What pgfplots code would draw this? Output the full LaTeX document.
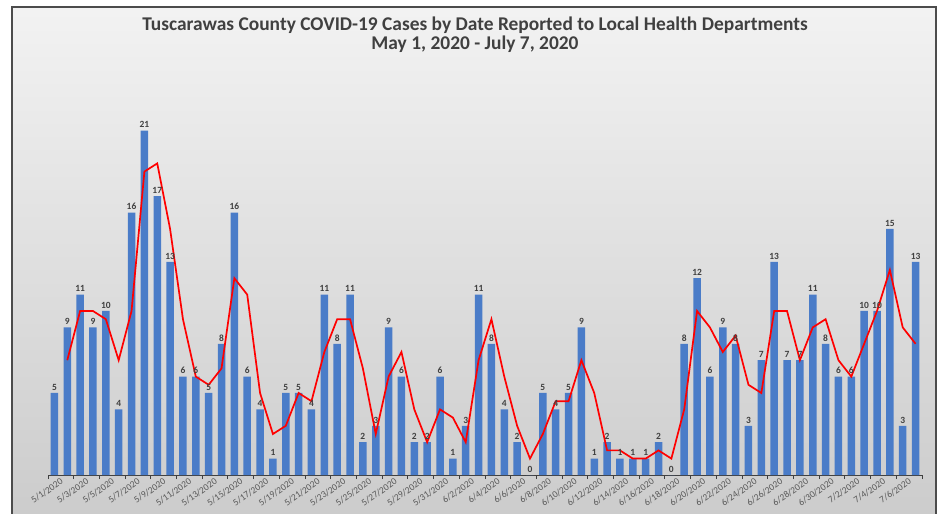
\documentclass[border=0pt]{standalone}
\usepackage{pgfplots}
\usepackage{pgfplotstable}
\pgfplotsset{compat=1.18}
\usepackage{fontspec}
\setmainfont{Carlito}
\definecolor{barblue}{RGB}{74,124,200}
\definecolor{txtgray}{RGB}{64,64,64}
\definecolor{ticklab}{RGB}{89,89,89}
\pgfplotstableread{
x y
0 5
1 9
2 11
3 9
4 10
5 4
6 16
7 21
8 17
9 13
10 6
11 6
12 5
13 8
14 16
15 6
16 4
17 1
18 5
19 5
20 4
21 11
22 8
23 11
24 2
25 3
26 9
27 6
28 2
29 2
30 6
31 1
32 3
33 11
34 8
35 4
36 2
37 0
38 5
39 4
40 5
41 9
42 1
43 2
44 1
45 1
46 1
47 2
48 0
49 8
50 12
51 6
52 9
53 8
54 3
55 7
56 13
57 7
58 7
59 11
60 8
61 6
62 6
63 10
64 10
65 15
66 3
67 13
}\cases
\pgfplotstableread{
x m
1 7
2 10
3 10
4 9.5
5 7
6 10
7 18.5
8 19
9 15
10 9.5
11 6
12 5.5
13 6.5
14 12
15 11
16 5
17 2.5
18 3
19 5
20 4.5
21 7.5
22 9.5
23 9.5
24 6.5
25 2.5
26 6
27 7.5
28 4
29 2
30 4
31 3.5
32 2
33 7
34 9.5
35 6
36 3
37 1
38 2.5
39 4.5
40 4.5
41 7
42 5
43 1.5
44 1.5
45 1
46 1
47 1.5
48 1
49 4
50 10
51 9
52 7.5
53 8.5
54 5.5
55 5
56 10
57 10
58 7
59 9
60 9.5
61 7
62 6
63 8
64 10
65 12.5
66 9
67 8
}\avg
\begin{document}
\begin{tikzpicture}
\useasboundingbox (0,0) rectangle (940bp,514bp);
\fill[white] (0,0) rectangle (940bp,514bp);
\shade[top color=white!95!black, bottom color=white!80!black] (12bp,-2bp) rectangle (936bp,507bp);
\draw[gray!60!black, line width=1.5bp] (12bp,-2bp) rectangle (936bp,507bp);
\node[font=\fontsize{19.5}{19.5}\selectfont\bfseries, text=txtgray, align=center] at (475bp,479bp) {Tuscarawas County COVID-19 Cases by Date Reported to Local Health Departments\\May 1, 2020 - July 7, 2020};
\begin{axis}[
  at={(48bp,39bp)}, anchor=south west,
  scale only axis, width=874bp, height=410bp,
  xmin=-0.5, xmax=67.5, ymin=0, ymax=25,
  /pgf/number format/assume math mode=true,
  axis line style={draw=none},
  axis x line*=bottom,
  x axis line style={draw=txtgray, line width=0.9bp},
  axis y line=none,
  ytick={5,10,15,20},
  ymajorgrids,
  grid style={gray!55, line width=0.5bp},
  xtick={0,2,...,66},
  xticklabels={5/1/2020,5/3/2020,5/5/2020,5/7/2020,5/9/2020,5/11/2020,5/13/2020,5/15/2020,5/17/2020,5/19/2020,5/21/2020,5/23/2020,5/25/2020,5/27/2020,5/29/2020,5/31/2020,6/2/2020,6/4/2020,6/6/2020,6/8/2020,6/10/2020,6/12/2020,6/14/2020,6/16/2020,6/18/2020,6/20/2020,6/22/2020,6/24/2020,6/26/2020,6/28/2020,6/30/2020,7/2/2020,7/4/2020,7/6/2020},
  xticklabel style={rotate=35, anchor=north east, font=\fontsize{9.5}{10}\selectfont, text=ticklab, inner sep=1bp, xshift=4bp, yshift=-4bp},
  major tick length=0pt,
  extra x ticks={-0.5,1.5,...,67.5},
  extra x tick labels={},
  extra x tick style={major tick length=4bp, tick style={draw=txtgray, line width=0.9bp}, tick align=outside, xmajorgrids=false},
  clip=false,
]
\addplot[ybar, bar width=7.5bp, fill=barblue, draw=none,
  nodes near coords,
  every node near coord/.append style={font=\fontsize{9.5}{10}\selectfont\bfseries, text=txtgray, inner sep=2.5bp}]
  table[x=x,y=y]{\cases};
\addplot[red, line width=1.7bp, mark=none] table[x=x,y=m]{\avg};
\end{axis}
\end{tikzpicture}
\end{document}
